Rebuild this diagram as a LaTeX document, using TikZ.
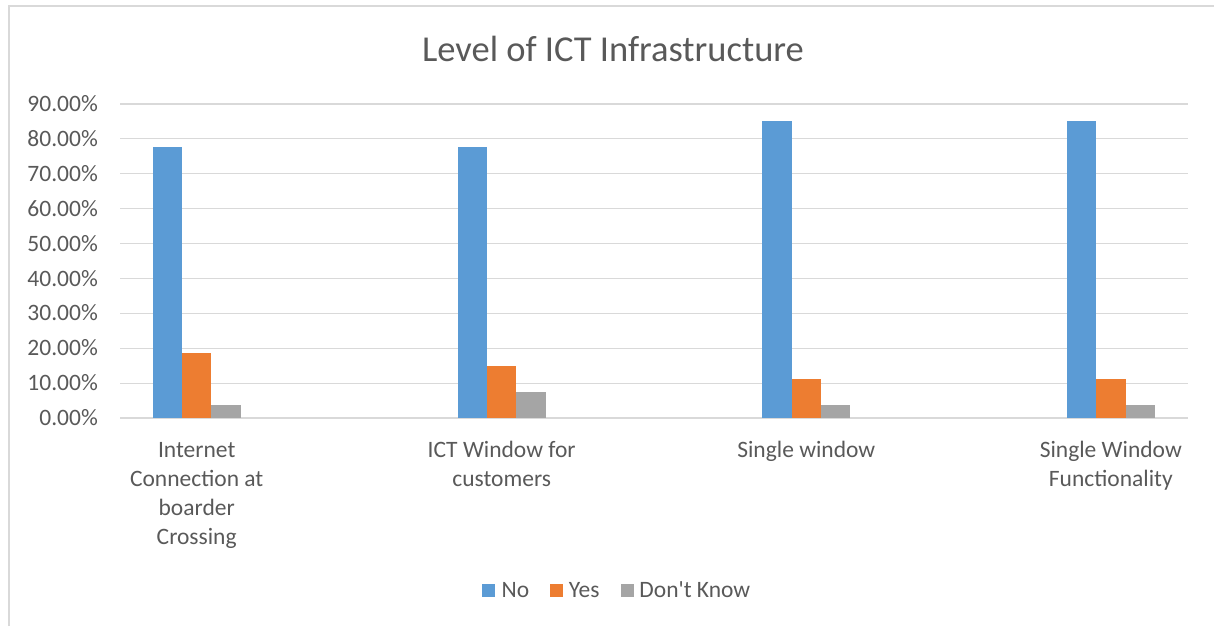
\documentclass[tikz,border=0pt]{standalone}
\usepackage{fontspec}
\setmainfont{Carlito}[Ligatures=TeXOff]
\usetikzlibrary{positioning}
\definecolor{gridgray}{HTML}{D9D9D9}
\definecolor{labgray}{HTML}{595959}
\definecolor{nobar}{HTML}{5B9BD5}
\definecolor{yesbar}{HTML}{ED7D31}
\definecolor{dkbar}{HTML}{A5A5A5}
\tikzset{
	gridline/.style={draw=gridgray, line width=1.2pt},
	ylabel/.style={anchor=base east, inner sep=0pt, text=labgray, font=\fontsize{23.5}{29}\selectfont},
	catlabel/.style={anchor=base, inner sep=0pt, align=center, text=labgray, font=\fontsize{23.5}{29}\selectfont},
	legsquare/.style={inner sep=0pt, minimum size=13pt},
	legtext/.style={inner sep=0pt, anchor=base west, text=labgray, font=\fontsize{23.5}{29}\selectfont}
}

\begin{document}
\begin{tikzpicture}[x=1pt, y=-1pt]
			%%%%% START %%%%%
			\useasboundingbox (0, 0) rectangle (1214, 626);
			\draw[gridgray, line width=2pt] (9, 626) -- (9, 6) -- (1214, 6);
			
			\node[anchor=base, inner sep=0pt, text=labgray, font=\fontsize{36.5}{44}\selectfont] (title) at (613, 62) {Level of ICT Infrastructure};
			
			% grid and value axis
			\foreach \v [count=\i from 0] in {0.00,10.00,20.00,30.00,40.00,50.00,60.00,70.00,80.00,90.00} {
				\draw[gridline] (120, {418-\i*34.889}) -- (1188, {418-\i*34.889});
				\node[ylabel] (y\i) at (98, {418-\i*34.889+7.6}) {\v\%};
			}
			
			% Internet Connection at boarder Crossing
			\fill[nobar] (152.7, 418) rectangle (182.0, 146.6);
			\fill[yesbar] (182.0, 418) rectangle (211.3, 353.4);
			\fill[dkbar] (211.3, 418) rectangle (240.7, 405.1);
			
			% ICT Window for customers
			\fill[nobar] (457.7, 418) rectangle (487.0, 146.6);
			\fill[yesbar] (487.0, 418) rectangle (516.3, 366.3);
			\fill[dkbar] (516.3, 418) rectangle (545.7, 392.2);
			
			% Single window
			\fill[nobar] (762.3, 418) rectangle (791.6, 120.8);
			\fill[yesbar] (791.6, 418) rectangle (820.9, 379.2);
			\fill[dkbar] (820.9, 418) rectangle (850.2, 405.1);
			
			% Single Window Functionality
			\fill[nobar] (1066.9, 418) rectangle (1096.2, 120.8);
			\fill[yesbar] (1096.2, 418) rectangle (1125.5, 379.2);
			\fill[dkbar] (1125.5, 418) rectangle (1154.8, 405.1);
			
			% base anchor sits on the last line
			\node[catlabel] (cat1) at (196.7, 544) {Internet\\Connection at\\boarder\\Crossing};
			\node[catlabel] (cat2) at (501.7, 486) {ICT Window for\\customers};
			\node[catlabel] (cat3) at (806.3, 457) {Single window};
			\node[catlabel] (cat4) at (1110.8, 486) {Single Window\\Functionality};
			
			% legend
			\node[legsquare, fill=nobar] (sqno) at (488.7, 590) {};
			\node[legtext, right=6pt of sqno.east, anchor=west] (txtno) {No};
			\node[legsquare, fill=yesbar, right=20pt of txtno] (sqyes) {};
			\node[legtext, right=6pt of sqyes.east, anchor=west] (txtyes) {Yes};
			\node[legsquare, fill=dkbar, right=21pt of txtyes] (sqdk) {};
			\node[legtext, right=5pt of sqdk.east, anchor=west] (txtdk) {Don't Know};
			%%%%% END %%%%%
\end{tikzpicture}
\end{document}
